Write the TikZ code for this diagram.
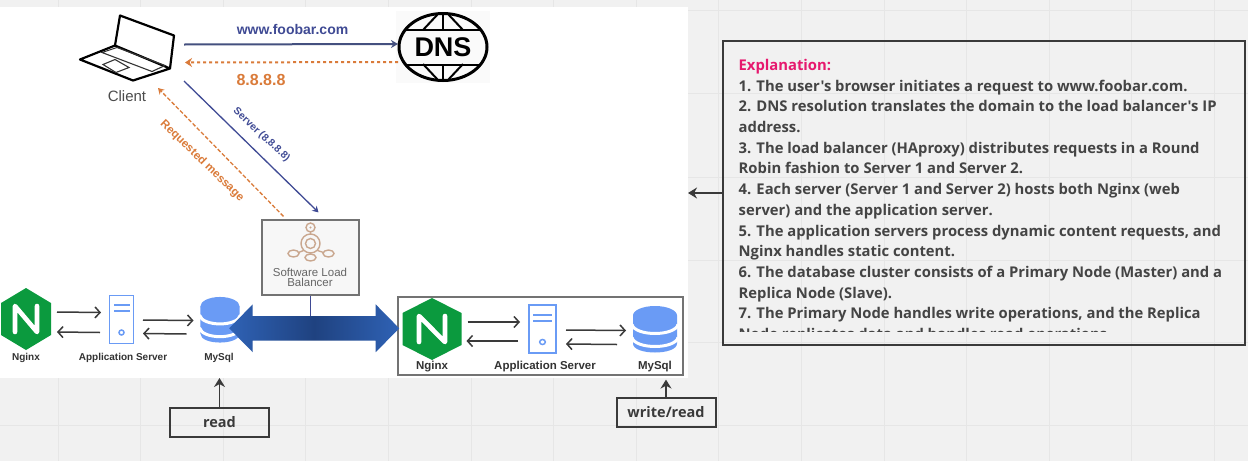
\documentclass[tikz,border=0pt]{standalone}
\usepackage{fontspec}
\setmainfont{Open Sans}
\newfontfamily\labelfont{Liberation Sans}
\newfontfamily\explfont{Open Sans}
\usetikzlibrary{arrows.meta,shapes.arrows}
\definecolor{sheetgray}{HTML}{F1F1F1}
\definecolor{gridgray}{HTML}{E6E6E6}
\definecolor{inkgray}{HTML}{3A3A3A}
\definecolor{expltext}{HTML}{444444}
\definecolor{reqblue}{HTML}{44507F}
\definecolor{srvblue}{HTML}{3F4A94}
\definecolor{resporange}{HTML}{DA7B3A}
\definecolor{ngxgreen}{HTML}{0B9A3E}
\definecolor{iconblue}{HTML}{6A9BF5}
\definecolor{lbtan}{HTML}{C9A78F}
\definecolor{linkblue}{HTML}{2F62B5}
\definecolor{linkdark}{HTML}{1F4280}
\definecolor{explpink}{HTML}{E6186E}
\pgfdeclarehorizontalshading{linkshade}{100bp}{color(0bp)=(linkblue); color(25bp)=(linkblue); color(50bp)=(linkdark); color(75bp)=(linkblue); color(100bp)=(linkblue)}
\tikzset{
  iconbox/.style = {inner sep=0pt, outer sep=0pt},
  caption/.style = {font=\labelfont\bfseries\fontsize{10}{12}\selectfont, text=black!80, inner sep=0pt},
  bigcaption/.style = {font=\labelfont\bfseries\fontsize{11.5}{13}\selectfont, text=black!80, inner sep=0pt},
  flow/.style = {-{Straight Barb[length=5pt,width=11pt]}, line width=1.5pt, inkgray},
  tagbox/.style = {draw=inkgray, line width=2pt, minimum width=99pt, minimum height=29pt, inner sep=0pt,
    font=\bfseries\fontsize{14.5}{16}\selectfont, text=inkgray},
  tagarrow/.style = {-{Stealth[length=9pt,width=11pt]}, line width=1.6pt, inkgray},
  nginxicon/.pic = {
    \fill [ngxgreen] (0,-31) -- (25,-16) -- (25,16) -- (0,31) -- (-25,16) -- (-25,-16) -- cycle;
    \draw [white, line width=4.6pt, line cap=round, line join=round] (-11,13) -- (-11,-13) -- (11,13) -- (11,-13);
  },
  servericon/.pic = {
    \draw [iconblue, line width=1.8pt] (-12,-24) rectangle (12,24);
    \fill [iconblue] (-8,-15.5) rectangle (8,-13.5);
    \fill [iconblue] (-8,-9.5) rectangle (8,-7.5);
    \draw [iconblue, line width=1.5pt] (0,13) circle (2.5);
  },
  dbicon/.pic = {
    \fill [iconblue] (-22,-14) -- (22,-14) -- (22,14) .. controls (22,26) and (-22,26) .. (-22,14) -- cycle;
    \draw [white, line width=3pt] (-23,-5) .. controls (-20,7) and (20,7) .. (23,-5);
    \draw [white, line width=3pt] (-23,8) .. controls (-20,20) and (20,20) .. (23,8);
    \fill [iconblue] (0,-14) ellipse (22 and 9.5);
  },
  laptopicon/.pic = {
    \draw [black, line width=2.2pt, line join=round, fill=white]
      (-47,12) -- (-12,-2) -- (43,21) -- (6,33) -- cycle;
    \draw [black, line width=2.2pt, line join=round]
      (-12,-2) -- (-7,-32) -- (47,-12) -- (43,21);
    \draw [black!80, line width=1.1pt] (-25,5) -- (-10,0) -- (38,18) -- (25,24) -- cycle;
    \draw [black!80, line width=1.1pt] (-24,17) -- (-12,12) -- (2,20) -- (-11,25) -- cycle;
  },
  dnsicon/.pic = {
    \begin{scope}
      \clip (0,0) ellipse (44 and 34);
      \draw [black, line width=2pt] (0,-34) -- (0,-17.5) (0,17.5) -- (0,34);
      \draw [black, line width=2pt] (-20,-17) -- (-5,-33) (20,-17) -- (5,-33);
      \draw [black, line width=2pt] (-20,17) -- (-5,33) (20,17) -- (5,33);
      \draw [black, line width=2pt] (-44,-17.5) -- (44,-17.5) (-44,17.5) -- (44,17.5);
    \end{scope}
    \draw [black, line width=3pt] (0,0) ellipse (44 and 33.5);
    \node [font=\labelfont\bfseries\fontsize{27}{28}\selectfont, inner sep=0pt] at (0,0) {DNS};
  },
  lbicon/.pic = {
    \draw [lbtan, line width=1.4pt] (0,-12) -- (0,-9) (0,9) -- (0,11)
      (-7,7) -- (-12,9) (7,7) -- (13,9);
    \draw [lbtan, line width=1.4pt] (0,-16) circle (4.5);
    \fill [lbtan] (0,-16) circle (1.2);
    \draw [lbtan, line width=1.4pt] (0,0) circle (9.5);
    \draw [lbtan, line width=1.4pt] (0,0) circle (5);
    \draw [lbtan, line width=1.4pt] (-17,10) ellipse (5.5 and 3.5);
    \draw [lbtan, line width=1.4pt] (0,14) ellipse (5.5 and 3.5);
    \draw [lbtan, line width=1.4pt] (18,10) ellipse (5.5 and 3.5);
  }
}
\begin{document}
\begin{tikzpicture}[x=1pt, y=-1pt]
  \useasboundingbox (0,0) rectangle (1248,461);
  \fill [sheetgray] (0,0) rectangle (1248,461);
  % sheet grid
  \foreach \gx in {0,...,14}
    \draw [gridgray, line width=.7pt] ({58+82.6*\gx},0) -- ({58+82.6*\gx},461);
  \foreach \gy in {10,93,177,260,342,425}
    \draw [gridgray, line width=.7pt] (0,\gy) -- (1248,\gy);

  \node [fill=white, minimum width=688pt, minimum height=371pt, inner sep=0pt, outer sep=0pt] (panel) at (344,192.5) {};

  % client and dns
  \node [iconbox, minimum width=94pt, minimum height=67pt] (client) at (127,47.5) {};
  \pic at (client) {laptopicon};
  \node [font=\labelfont\fontsize{15}{17}\selectfont, text=black!70, inner sep=0pt] (clientlabel) at (127,96) {Client};
  \fill [black!2] (396,11) rectangle (490,83);
  \node [iconbox, minimum width=90pt, minimum height=68pt] (dns) at (443,47) {};
  \pic at (dns) {dnsicon};

  \draw [-{Stealth[length=7pt,width=8pt]}, reqblue, line width=2pt] ([xshift=10pt,yshift=3pt]client.east) -- ([yshift=3pt]dns.west);
  \node [font=\labelfont\bfseries\fontsize{14}{16}\selectfont, text=srvblue, inner sep=0pt] (wwwlabel) at (292.5,29) {www.foobar.com};
  \draw [-{Stealth[length=7pt,width=9pt]}, resporange, line width=2pt, dash pattern=on 3pt off 3pt] ([yshift=-15pt]dns.west) -- ([xshift=11pt,yshift=-15pt]client.east);
  \node [font=\labelfont\bfseries\fontsize{16}{18}\selectfont, text=resporange, inner sep=0pt] (dnsreply) at (261,80) {8.8.8.8};

  % load balancer
  \node [draw=black!55, line width=1.2pt, fill=black!3, minimum width=97pt, minimum height=75pt, inner sep=0pt] (lb) at (310.5,257.5) {};
  \pic at (lb.center) [yshift=14pt] {lbicon};
  \node [font=\labelfont\fontsize{11.5}{10}\selectfont, text=black!60, align=center, inner sep=0pt] (lblabel) at (310,277) {Software Load\\Balancer};

  \draw [-{Stealth[length=6pt,width=7pt]}, srvblue, line width=1.3pt] ([xshift=10pt]client.south east) -- ([xshift=8pt,yshift=7pt]lb.north);
  \draw [-{Stealth[length=6pt,width=7pt]}, resporange, line width=1.3pt, dash pattern=on 4pt off 2pt] ([xshift=-27pt,yshift=3pt]lb.north) -- ([xshift=-16pt,yshift=-7pt]client.south east);
  \node [font=\labelfont\fontsize{10.3}{12}\selectfont\bfseries, text=srvblue, rotate=-43, inner sep=0pt] (srvlabel) at (261.5,135) {Server (8.8.8.8)};
  \node [font=\labelfont\fontsize{11.5}{13}\selectfont\bfseries, text=resporange, rotate=-44, inner sep=0pt] (reqlabel) at (202,161) {Requested message};

  % read side
  \node [iconbox, minimum width=50pt, minimum height=62pt] (nginxa) at (26,319) {};
  \pic at (nginxa) {nginxicon};
  \node [iconbox, minimum width=25pt, minimum height=49pt] (appa) at (121.5,319.5) {};
  \pic at (appa) {servericon};
  \node [iconbox, minimum width=39pt, minimum height=46pt] (dba) at (220,320) {};
  \pic at (dba) [xscale=.89, yscale=.98] {dbicon};
  \node [caption] (nginxalabel) at (26,358) {Nginx};
  \node [caption] (appalabel) at (123,358) {Application Server};
  \node [caption] (dbalabel) at (219,358) {MySql};
  \draw [flow] ([xshift=6pt,yshift=7pt]nginxa.east) -- ([xshift=-8pt,yshift=7pt]appa.west);
  \draw [flow] ([xshift=-9pt,yshift=-13pt]appa.west) -- ([xshift=6pt,yshift=-13pt]nginxa.east);
  \draw [flow] ([xshift=9pt,yshift=-.5pt]appa.east) -- ([xshift=-7pt,yshift=-.5pt]dba.west);
  \draw [flow] ([xshift=-14pt,yshift=-14pt]dba.west) -- ([xshift=9pt,yshift=-14pt]appa.east);

  % write side
  \node [draw=black!55, line width=1.2pt, fill=white, minimum width=285pt, minimum height=78pt, inner sep=0pt] (group) at (540.5,336) {};
  \node [iconbox, minimum width=59pt, minimum height=62pt] (nginxb) at (432,329) {};
  \pic at (nginxb) [xscale=1.18] {nginxicon};
  \node [iconbox, minimum width=29pt, minimum height=50pt] (appb) at (542.5,329) {};
  \pic at (appb) [xscale=1.15] {servericon};
  \node [iconbox, minimum width=44pt, minimum height=47pt] (dbb) at (655,329.5) {};
  \pic at (dbb) {dbicon};
  \node [bigcaption] (nginxblabel) at (432,367) {Nginx};
  \node [bigcaption] (appblabel) at (545,367) {Application Server};
  \node [bigcaption] (dbblabel) at (655,367) {MySql};
  \draw [flow] ([xshift=6pt,yshift=7pt]nginxb.east) -- ([xshift=-8pt,yshift=7pt]appb.west);
  \draw [flow] ([xshift=-10pt,yshift=-12pt]appb.west) -- ([xshift=5pt,yshift=-12pt]nginxb.east);
  \draw [flow] ([xshift=9pt,yshift=-1pt]appb.east) -- ([xshift=-7pt,yshift=-1pt]dbb.west);
  \draw [flow] ([xshift=-16pt,yshift=-15pt]dbb.west) -- ([xshift=9pt,yshift=-15pt]appb.east);

  % link between the two sides
  \node [double arrow, double arrow head extend=11.7pt, double arrow tip angle=91, minimum height=170pt, minimum width=47.5pt,
    inner xsep=0pt, inner ysep=12pt, outer sep=0pt, shading=linkshade] (link) at (314.2,328.3) {};
  \draw [srvblue, line width=1.3pt] (lb.south) -- (lb.south |- link.north);

  % tags
  \node [tagbox] (readtag) at (219.5,422) {read};
  \draw [tagarrow] (readtag.north) -- (readtag.north |- panel.south);
  \node [tagbox] (writetag) at (666,412.5) {write/read};
  \draw [tagarrow] (writetag.north) -- ([yshift=-4pt]writetag.north |- group.south);

  % explanation
  \node [draw=inkgray, line width=2pt, minimum width=522pt, minimum height=304pt, inner sep=0pt] (expl) at (984,193) {};
  \draw [tagarrow] (expl.west) -- (expl.west -| panel.east);
  \begin{scope}
    \clip (723,41) rectangle (1245,331);
    \node [anchor=north west, inner sep=0pt, align=left, text=expltext,
      font=\explfont\bfseries\fontsize{14.8}{20.7}\selectfont] (explbody) at (738.5,59) {%
      \textcolor{explpink}{Explanation:}\\
      1. The user's browser initiates a request to www.foobar.com.\\
      2. DNS resolution translates the domain to the load balancer's IP\\
      address.\\
      3. The load balancer (HAproxy) distributes requests in a Round\\
      Robin fashion to Server 1 and Server 2.\\
      4. Each server (Server 1 and Server 2) hosts both Nginx (web\\
      server) and the application server.\\
      5. The application servers process dynamic content requests, and\\
      Nginx handles static content.\\
      6. The database cluster consists of a Primary Node (Master) and a\\
      Replica Node (Slave).\\
      7. The Primary Node handles write operations, and the Replica\\
      Node replicates data and handles read operations.};
  \end{scope}
\end{tikzpicture}
\end{document}
